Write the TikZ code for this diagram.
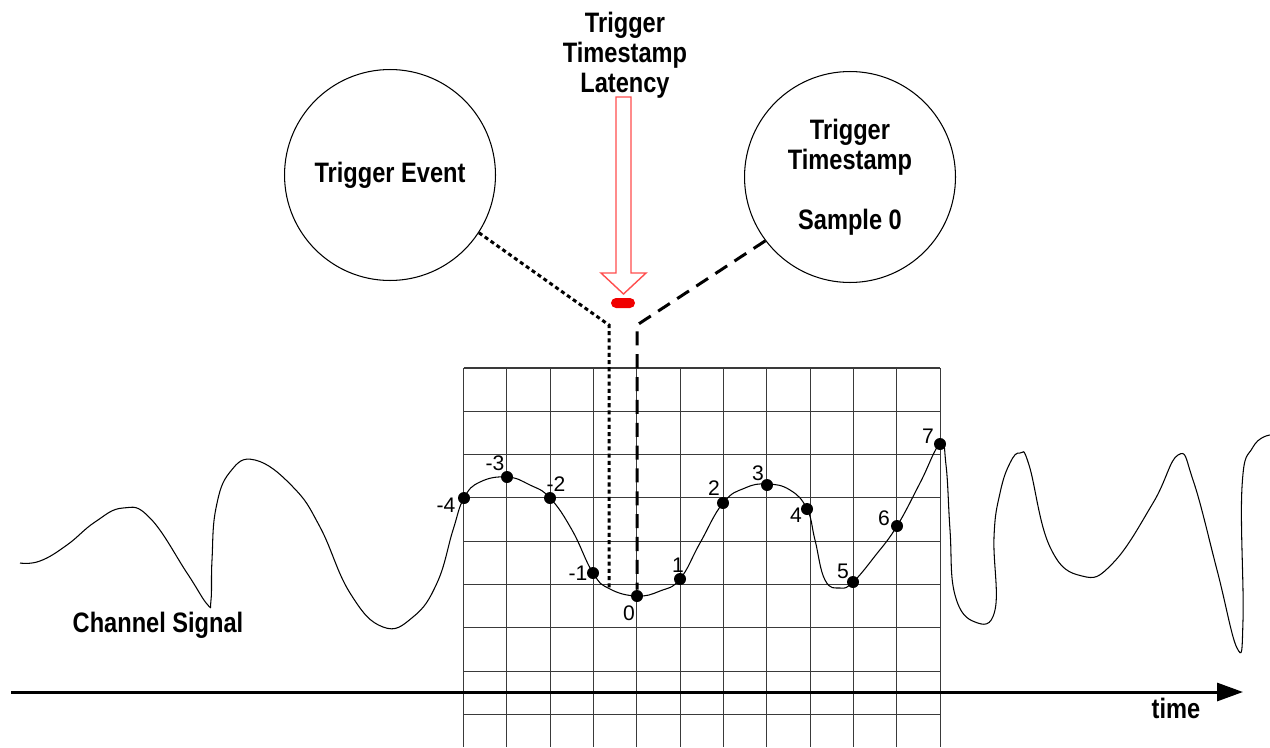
\documentclass[tikz,border=0pt]{standalone}
\usepackage{fontspec}
\setmainfont{Liberation Sans}
\newfontfamily\condfont[FakeStretch=0.84]{Liberation Sans}
\usetikzlibrary{arrows.meta,positioning}
\definecolor{latency}{HTML}{FF4D4D}
\definecolor{latencymark}{HTML}{F00000}
\definecolor{gridline}{HTML}{3A3A3A}

\begin{document}
\begin{tikzpicture}[x=0.02cm,y=-0.02cm,lbl/.style={font=\condfont\bfseries\fontsize{16}{17}\selectfont,align=center,inner sep=0pt},bubble/.style={circle,draw,line width=0.6pt,minimum size=4.22cm,inner sep=0pt},sample/.style={circle,fill,minimum size=0.24cm,inner sep=0pt},num/.style={font=\fontsize{12}{12}\selectfont,inner sep=0pt},link/.style={line width=1.7pt}]
 \useasboundingbox (0,0) rectangle (1270,747);
 % sample grid
 \foreach \i in {0,...,11} \draw[gridline,line width=0.6pt] (463.5+\i*43.32,368) -- (463.5+\i*43.32,747);
 \foreach \j in {0,...,8} \draw[gridline,line width=0.6pt] (463.5,368+\j*43.3) -- (940,368+\j*43.3);
 % time axis
 \coordinate (t0) at (11,692); \coordinate (t1) at (1243,692);
 \draw[line width=1.7pt,-{Triangle[length=0.52cm,width=0.36cm]}] (t0) -- (t1);
 \node[lbl] (time) at (1176,708) {time};
 % channel signal
 \draw[line width=0.6pt] plot[smooth,tension=0.75] coordinates {(20,563) (40,561) (67,545) (95,522) (123,508) (150,518) (187,573) (207,604) (211,600) (212,560) (216,508) (230,472) (255,460) (293,487) (320,527) (350,593) (383,627) (413,617) (437,583) (453,530) (464,498) (480,482) (507,477) (530,485) (550,498) (572,530) (593,573) (610,589) (637,596) (660,591) (680,579) (700,543) (723,503) (745,488) (767,484) (790,490) (807,509) (815,540) (825,580) (840,588) (853,582) (875,556) (897,526) (920,483) (940,444) (946,465) (950,530) (955,595) (975,622) (995,610) (994,537) (1000,493) (1010,463) (1020,453) (1029,465) (1050,547) (1082,576) (1113,563) (1153,503) (1178,455) (1193,480) (1217,570) (1237,648) (1243,620) (1242,487) (1253,447) (1270,435)};
 \node[lbl] (signal) at (158,625) {Channel Signal};
 % samples
 \foreach \n/\x/\y in {m4/464/498,m3/507/477,m2/550/498,m1/593/573,0/637/596,1/680/579,2/723/503,3/767/485,4/807/509,5/853/582,6/897/526,7/940/444}
  \node[sample] (s\n) at (\x,\y) {};
 \foreach \n/\x/\y/\t in {m4/446/505/-4,m3/495/463/-3,m2/556/484/-2,m1/578/573/-1,0/629/613/0,1/678/565/1,2/714/488/2,3/758/473/3,4/796/515/4,5/843/571/5,6/884/518/6,7/928/436/7}
  \node[num] (l\n) at (\x,\y) {\t};
 % bubbles
 \node[bubble,lbl] (event) at (390,175) {Trigger Event};
 \node[bubble,lbl] (stamp) at (850,177) {Trigger\\Timestamp\\[0.6cm]Sample 0};
 \coordinate (dotbend) at (609,325); \coordinate (dotend) at (609,588);
 \coordinate (dashbend) at (637,325);
 \draw[link,dash pattern=on 2.3pt off 1.8pt] (event.-33.5) -- (dotbend) -- (dotend);
 \draw[link,dash pattern=on 8pt off 5pt] (stamp.-143.7) -- (dashbend) -- (s0);
 % latency marker
 \node[lbl] (latencytxt) at (625,55) {Trigger\\Timestamp\\Latency};
 \draw[latency,line width=0.8pt] (616,97) -- (631,97) -- (631,273) -- (646,273) -- (623.5,294) -- (601,273) -- (616,273) -- cycle;
 \node[fill=latencymark,rounded corners=0.1cm,minimum width=0.48cm,minimum height=0.2cm,inner sep=0pt] (latch) at (623,303) {};
\end{tikzpicture}
\end{document}
